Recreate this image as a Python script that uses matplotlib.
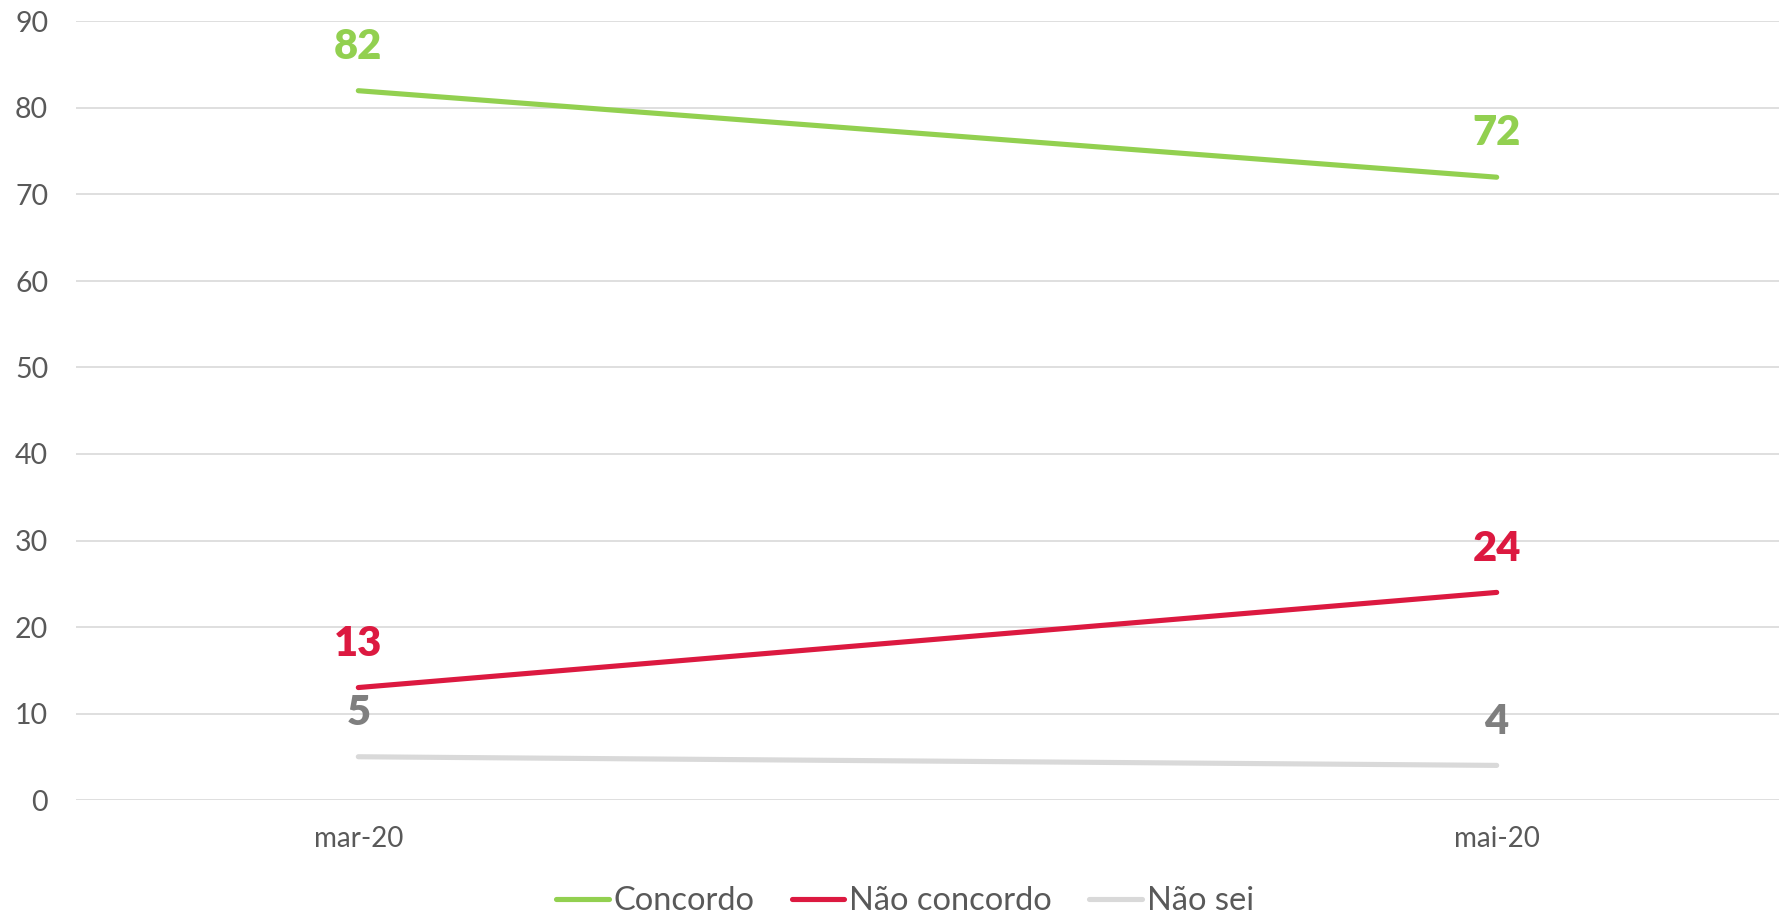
import matplotlib
matplotlib.use("Agg")
import matplotlib.pyplot as plt

categories = ["mar-20", "mai-20"]
concordo = [82, 72]
nao_concordo = [13, 24]
nao_sei = [5, 4]
series_names = ["Concordo", "Não concordo", "Não sei"]
line_colors = ["#92D050", "#DC1940", "#D9D9D9"]
label_colors = ["#92D050", "#DC1940", "#7F7F7F"]
yticks = [0, 10, 20, 30, 40, 50, 60, 70, 80, 90]

plt.rcParams['font.family'] = ['Lato', 'DejaVu Sans']

fig = plt.figure(figsize=(17.81, 9.22), dpi=100)
ax = fig.add_axes([76/1781, 1-800/922, (1779-76)/1781, (800-21.5)/922])

x = list(range(len(categories)))
for vals, name, lc, tc in zip([concordo, nao_concordo, nao_sei], series_names, line_colors, label_colors):
    ax.plot(x, vals, color=lc, lw=3.7, solid_capstyle='round', label=name, zorder=3)
    for xi, v in zip(x, vals):
        ax.annotate(str(v), (xi, v), xytext=(0, 31.5), textcoords='offset points',
                    ha='center', va='center', fontsize=30, fontweight='heavy', color=tc)

ax.set_xlim(-0.248, 1.248)
ax.set_ylim(0, 90)
ax.set_yticks(yticks)
ax.set_xticks(x)
ax.set_xticklabels(categories)
ax.grid(axis='y', color='#D9D9D9', lw=1.2)
ax.set_axisbelow(True)
for s in ax.spines.values():
    s.set_visible(False)
ax.tick_params(axis='y', length=0, pad=20, labelsize=20.5, labelcolor='#595959')
ax.tick_params(axis='x', length=0, pad=19, labelsize=20, labelcolor='#595959')

leg = fig.legend(loc='center', bbox_to_anchor=(905/1781, 1-901/922), ncol=3, frameon=False,
                 fontsize=23.5, handlelength=1.6, handletextpad=0.15, columnspacing=1.15,
                 labelcolor='#595959')
fig.savefig("out.png", dpi=100)
